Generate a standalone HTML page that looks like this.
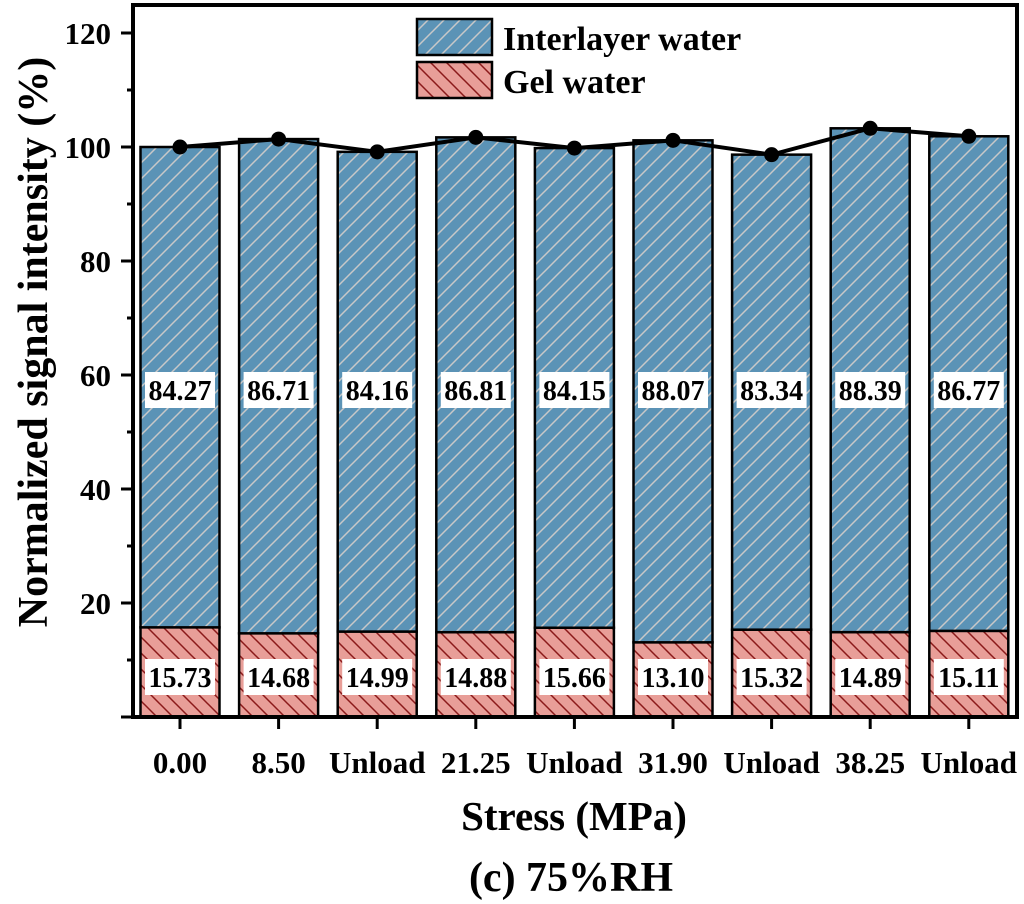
<!DOCTYPE html>
<html><head><meta charset="utf-8"><style>body{margin:0;background:#fff}svg{display:block}</style></head><body>
<svg width="1024" height="904" xmlns="http://www.w3.org/2000/svg" font-family="'Liberation Serif', serif" font-weight="bold">
<defs>
<pattern id="pb" patternUnits="userSpaceOnUse" width="16" height="16"><rect width="16" height="16" fill="#5b93b6"/><path d="M-4,4 L4,-4 M0,16 L16,0 M12,20 L20,12" stroke="#c8c8c8" stroke-width="1.5"/></pattern>
<pattern id="pr" patternUnits="userSpaceOnUse" width="16" height="16"><rect width="16" height="16" fill="#e89e98"/><path d="M-4,12 L4,20 M0,0 L16,16 M12,-4 L20,4" stroke="#8b1a1a" stroke-width="1.5"/></pattern>
</defs>
<g id="bars" stroke="#000" stroke-width="2.5"></g>
<g id="lbl" font-size="28" text-anchor="middle"></g>
<polyline id="ln" fill="none" stroke="#000" stroke-width="4"/>
<g id="dots"></g>
<rect x="133" y="5" width="884" height="712" fill="none" stroke="#000" stroke-width="4"/>
<g id="ax" stroke="#000" stroke-width="3"></g>
<g id="yt" font-size="31" text-anchor="end"></g>
<g id="xt" font-size="31" text-anchor="middle"></g>
<rect x="417" y="19" width="75" height="36" fill="url(#pb)" stroke="#000" stroke-width="2.5"/>
<rect x="417" y="62" width="75" height="36" fill="url(#pr)" stroke="#000" stroke-width="2.5"/>
<text x="503" y="50" font-size="34">Interlayer water</text>
<text x="503" y="93" font-size="34">Gel water</text>
<text x="574" y="830" font-size="41" text-anchor="middle">Stress (MPa)</text>
<text x="571" y="891" font-size="42" text-anchor="middle">(c) 75%RH</text>
<text transform="translate(47,342) rotate(-90)" font-size="42" text-anchor="middle">Normalized signal intensity (%)</text>
</svg>
<script>
const ns="http://www.w3.org/2000/svg";
const gel=[15.73,14.68,14.99,14.88,15.66,13.10,15.32,14.89,15.11];
const il=[84.27,86.71,84.16,86.81,84.15,88.07,83.34,88.39,86.77];
const xl=["0.00","8.50","Unload","21.25","Unload","31.90","Unload","38.25","Unload"];
const Y=v=>717-v*5.7, X=i=>180+i*98.6;
function el(p,t,a,txt){const e=document.createElementNS(ns,t);for(const k in a)e.setAttribute(k,a[k]);if(txt)e.textContent=txt;document.getElementById(p).appendChild(e);return e;}
let pts=[];
for(let i=0;i<9;i++){const x=X(i)-39.5,t=gel[i]+il[i];
el("bars","rect",{x:x,y:Y(gel[i]),width:79,height:gel[i]*5.7,fill:"url(#pr)"});
el("bars","rect",{x:x,y:Y(t),width:79,height:il[i]*5.7,fill:"url(#pb)"});
el("lbl","rect",{x:X(i)-35,y:372,width:70,height:36,fill:"#fff"});
el("lbl","text",{x:X(i),y:400},il[i].toFixed(2));
el("lbl","rect",{x:X(i)-35,y:659,width:70,height:36,fill:"#fff"});
el("lbl","text",{x:X(i),y:687},gel[i].toFixed(2));
pts.push(X(i)+","+Y(t));
el("dots","circle",{cx:X(i),cy:Y(t),r:7.5});
el("ax","line",{x1:X(i),x2:X(i),y1:717,y2:729});
el("xt","text",{x:X(i),y:773},xl[i]);}
document.getElementById("ln").setAttribute("points",pts.join(" "));
for(let v=0;v<=120;v+=10){const y=Y(v),maj=v%20==0;
el("ax","line",{x1:133,x2:maj?121:127,y1:y,y2:y});
if(maj)el("yt","text",{x:111,y:y+11},v);}
</script>
</body></html>
